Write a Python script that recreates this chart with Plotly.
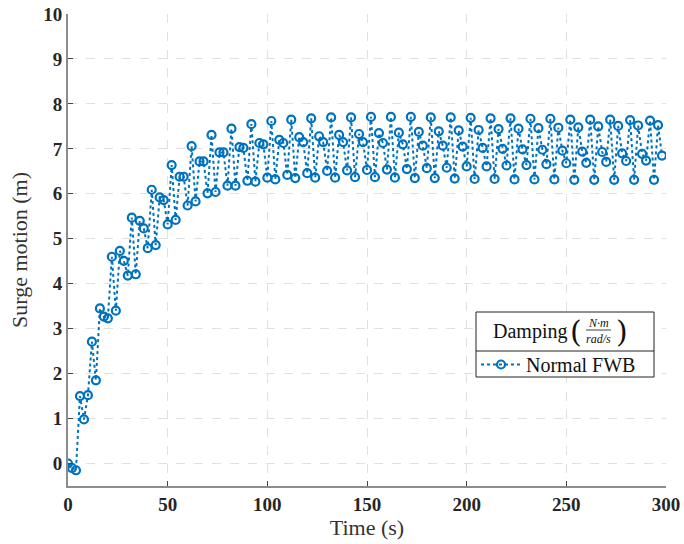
import plotly.graph_objects as go

time_s = [0, 2, 4, 6, 8, 10, 12, 14, 16, 18, 20, 22, 24, 26, 28, 30, 32, 34, 36, 38,
          40, 42, 44, 46, 48, 50, 52, 54, 56, 58, 60, 62, 64, 66, 68, 70, 72, 74, 76, 78,
          80, 82, 84, 86, 88, 90, 92, 94, 96, 98, 100, 102, 104, 106, 108, 110, 112, 114, 116, 118,
          120, 122, 124, 126, 128, 130, 132, 134, 136, 138, 140, 142, 144, 146, 148, 150, 152, 154, 156, 158,
          160, 162, 164, 166, 168, 170, 172, 174, 176, 178, 180, 182, 184, 186, 188, 190, 192, 194, 196, 198,
          200, 202, 204, 206, 208, 210, 212, 214, 216, 218, 220, 222, 224, 226, 228, 230, 232, 234, 236, 238,
          240, 242, 244, 246, 248, 250, 252, 254, 256, 258, 260, 262, 264, 266, 268, 270, 272, 274, 276, 278,
          280, 282, 284, 286, 288, 290, 292, 294, 296, 298]

surge_normal_fwb = [0.00, -0.10, -0.15, 1.50, 0.98, 1.52, 2.71, 1.85, 3.45, 3.27,
                    3.23, 4.60, 3.40, 4.73, 4.51, 4.18, 5.47, 4.21, 5.40, 5.23,
                    4.79, 6.09, 4.86, 5.92, 5.86, 5.32, 6.64, 5.42, 6.38, 6.38,
                    5.74, 7.06, 5.83, 6.72, 6.72, 6.01, 7.31, 6.04, 6.92, 6.92,
                    6.18, 7.45, 6.18, 7.04, 7.02, 6.29, 7.55, 6.27, 7.13, 7.10,
                    6.36, 7.62, 6.32, 7.20, 7.13, 6.42, 7.65, 6.35, 7.26, 7.15,
                    6.46, 7.68, 6.36, 7.28, 7.15, 6.51, 7.70, 6.36, 7.31, 7.15,
                    6.52, 7.70, 6.37, 7.33, 7.15, 6.53, 7.71, 6.37, 7.35, 7.13,
                    6.54, 7.71, 6.36, 7.36, 7.10, 6.55, 7.71, 6.35, 7.38, 7.07,
                    6.57, 7.70, 6.35, 7.39, 7.07, 6.58, 7.70, 6.34, 7.41, 7.05,
                    6.61, 7.69, 6.33, 7.42, 7.02, 6.61, 7.68, 6.33, 7.44, 7.00,
                    6.63, 7.68, 6.32, 7.45, 6.99, 6.64, 7.67, 6.32, 7.46, 6.98,
                    6.66, 7.67, 6.32, 7.47, 6.96, 6.68, 7.65, 6.31, 7.48, 6.94,
                    6.69, 7.65, 6.31, 7.50, 6.93, 6.71, 7.65, 6.31, 7.51, 6.90,
                    6.73, 7.64, 6.31, 7.52, 6.89, 6.74, 7.63, 6.31, 7.53, 6.85]

x_ticks = [0, 50, 100, 150, 200, 250, 300]
y_ticks = [0, 1, 2, 3, 4, 5, 6, 7, 8, 9, 10]

series_name = "Normal FWB"
legend_word = "Damping"
legend_num = "N·m"
legend_den = "rad/s"
x_title = "Time (s)"
y_title = "Surge motion (m)"

BLUE = "#0072BD"
FONT = "Liberation Serif"
TXT = "#262626"

# plot area in pixels
W, H = 684, 544
L, R, T, B = 68, 18, 14, 58
PW, PH = W - L - R, H - T - B


def px(xp):
    return (xp - L) / PW


def py(yp):
    return (H - B - yp) / PH


fig = go.Figure()
fig.add_trace(go.Scatter(
    x=time_s, y=surge_normal_fwb, mode="lines+markers", name=series_name,
    line=dict(color=BLUE, width=2, dash="dot"),
    marker=dict(symbol="circle-open", size=8, color=BLUE, line=dict(width=2.2, color=BLUE)),
))

axis_common = dict(
    showgrid=True, gridcolor="#e0e0e0", griddash="dash", gridwidth=1,
    showline=True, linecolor="#8c8c8c", linewidth=2,
    ticks="inside", ticklen=5, tickcolor="#444444", tickwidth=1,
    zeroline=False, mirror=False, automargin=False,
    tickfont=dict(family=FONT, size=19, color=TXT, weight="bold"),
    title_font=dict(family=FONT, size=22, color="#333333"),
)

fig.update_xaxes(range=[0, 300], tickvals=x_ticks, title_text=x_title,
                 title_standoff=2, **axis_common)
fig.update_yaxes(range=[-0.5, 10], tickvals=y_ticks, title_text=y_title,
                 title_standoff=10, **axis_common)

# legend box (drawn with shapes), native legend holds the entry row
box_l, box_r, box_t, box_m, box_b = 476, 654, 312, 351, 377
shapes = [
    dict(type="rect", xref="paper", yref="paper", x0=px(box_l), x1=px(box_r),
         y0=py(box_b), y1=py(box_t), line=dict(color="#222222", width=1),
         fillcolor="white", layer="above"),
    dict(type="line", xref="paper", yref="paper", x0=px(box_l), x1=px(box_r),
         y0=py(box_m), y1=py(box_m), line=dict(color="#222222", width=1), layer="above"),
    dict(type="line", xref="paper", yref="paper", x0=px(586), x1=px(611),
         y0=py(330), y1=py(330), line=dict(color="#111111", width=0.8), layer="above"),
]

annotations = [
    dict(text=legend_word, xref="paper", yref="paper", x=px(530), y=py(331),
         xanchor="center", yanchor="middle", showarrow=False,
         font=dict(family=FONT, size=20, color="#111111")),
    dict(text="(", xref="paper", yref="paper", x=px(576), y=py(331),
         xanchor="center", yanchor="middle", showarrow=False,
         font=dict(family="DejaVu Serif", size=30, color="#111111", weight=200)),
    dict(text=")", xref="paper", yref="paper", x=px(622), y=py(331),
         xanchor="center", yanchor="middle", showarrow=False,
         font=dict(family="DejaVu Serif", size=30, color="#111111", weight=200)),
    dict(text="<i>" + legend_num + "</i>", xref="paper", yref="paper", x=px(598.5), y=py(323),
         xanchor="center", yanchor="middle", showarrow=False,
         font=dict(family=FONT, size=12, color="#111111")),
    dict(text="<i>" + legend_den + "</i>", xref="paper", yref="paper", x=px(598.5), y=py(339),
         xanchor="center", yanchor="middle", showarrow=False,
         font=dict(family=FONT, size=12, color="#111111")),
]

fig.update_layout(
    width=W, height=H,
    margin=dict(l=L, r=R, t=T, b=B),
    plot_bgcolor="white", paper_bgcolor="white",
    showlegend=True,
    shapes=shapes, annotations=annotations,
    legend=dict(
        x=px(476), y=py(345), xanchor="left", yanchor="top",
        bgcolor="rgba(0,0,0,0)", borderwidth=0,
        font=dict(family=FONT, size=20, color="#111111"),
        itemwidth=40, tracegroupgap=0,
    ),
)

fig.write_html("out.html", config={"displayModeBar": False},
               post_script="document.body.style.margin='0';document.body.style.padding='0';")
